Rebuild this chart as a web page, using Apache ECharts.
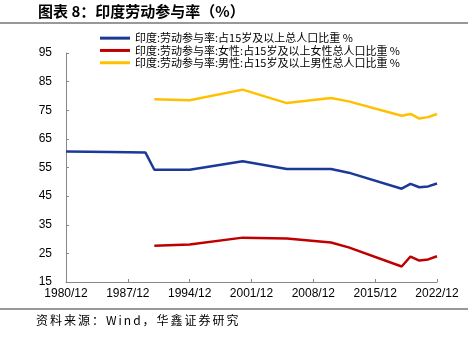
<!DOCTYPE html>
<html><head><meta charset="utf-8">
<script src="https://cdn.jsdelivr.net/npm/echarts@6/dist/echarts.min.js"></script>
<style>html,body{margin:0;padding:0;background:#fff}#c{width:470px;height:345px}</style>
</head><body><div id="c"></div>
<script>
const years = [];
for (let y = 1980; y <= 2022; y++) years.push(y + '/12');
const seriesNames = ['印度:劳动参与率:占15岁及以上总人口比重 %', '印度:劳动参与率:女性:占15岁及以上女性总人口比重 %', '印度:劳动参与率:男性:占15岁及以上男性总人口比重 %'];
// values keyed by year (only years)
const totalPts = {1980:60.6, 1985:60.4, 1989:60.2, 1990:54.2, 1994:54.2, 2000:57.2, 2005:54.5, 2010:54.5, 2012:53.2, 2018:47.6, 2019:49.3, 2020:48.1, 2021:48.4, 2022:49.4};
const femalePts = {1990:27.7, 1994:28.1, 2000:30.5, 2005:30.2, 2010:28.8, 2012:27.1, 2018:20.4, 2019:23.9, 2020:22.5, 2021:22.9, 2022:24.0};
const malePts = {1990:78.8, 1994:78.5, 2000:82.2, 2005:77.5, 2010:79.3, 2012:78.1, 2018:73.1, 2019:73.7, 2020:72.1, 2021:72.6, 2022:73.7};
const yTicks = {min:15, max:95, interval:10};
const titleText = '图表 8：印度劳动参与率（%）';
const sourceText = '资料来源：Wind，华鑫证券研究';
function toArr(p){ const a=[]; for(let y=1980;y<=2022;y++) a.push(p[y]!==undefined?p[y]:null); return a; }
function spaced(s, sp){ return Array.from(s).join(sp); }
const colors = ['#1b3a97', '#c00000', '#ffc000'];
const chart = echarts.init(document.getElementById('c'), null, {renderer:'canvas'});
const font = '"Liberation Sans", Arial, sans-serif';
chart.setOption({
  animation:false,
  color: colors,
  textStyle:{fontFamily:font},
  grid:{left:66, right:33, top:53, bottom:63},
  legend:{
    orient:'vertical', left:100, top:32, padding:0, itemWidth:30, itemHeight:3, itemGap:0, icon:'rect',
    textStyle:{fontSize:11, lineHeight:12.3, color:'#000', fontFamily:'"Noto Sans CJK SC", sans-serif'},
    data: seriesNames
  },
  xAxis:{
    type:'category', data:years, boundaryGap:false,
    axisLine:{lineStyle:{color:'#888'}},
    axisTick:{inside:true, length:3, interval:6, lineStyle:{color:'#888'}},
    axisLabel:{interval:6, color:'#000', fontSize:12, margin:6}
  },
  yAxis:{
    type:'value', min:yTicks.min, max:yTicks.max, interval:yTicks.interval,
    splitLine:{show:false},
    axisLine:{show:true, lineStyle:{color:'#888'}},
    axisTick:{show:true, inside:true, length:3, lineStyle:{color:'#888'}},
    axisLabel:{color:'#000', fontSize:12, margin:14}
  },
  series:[
    {name:seriesNames[0], type:'line', data:toArr(totalPts), connectNulls:true, symbol:'none', lineStyle:{width:2.5}},
    {name:seriesNames[1], type:'line', data:toArr(femalePts), connectNulls:true, symbol:'none', lineStyle:{width:2.5}},
    {name:seriesNames[2], type:'line', data:toArr(malePts), connectNulls:true, symbol:'none', lineStyle:{width:2.5}}
  ],
  graphic:[
    {type:'text', left:38, top:4, style:{text:titleText, font:'bold 15px "Noto Sans CJK SC", sans-serif', fill:'#000'}},
    {type:'line', shape:{x1:0, y1:23, x2:468, y2:23}, style:{stroke:'#333', lineWidth:1}},
    {type:'line', shape:{x1:0, y1:309, x2:468, y2:309}, style:{stroke:'#333', lineWidth:1}},
    {type:'text', left:36, top:314, style:{text:spaced(sourceText,'\u2006'), font:'12px "Noto Sans CJK SC", sans-serif', fill:'#000'}}
  ]
});
</script></body></html>
